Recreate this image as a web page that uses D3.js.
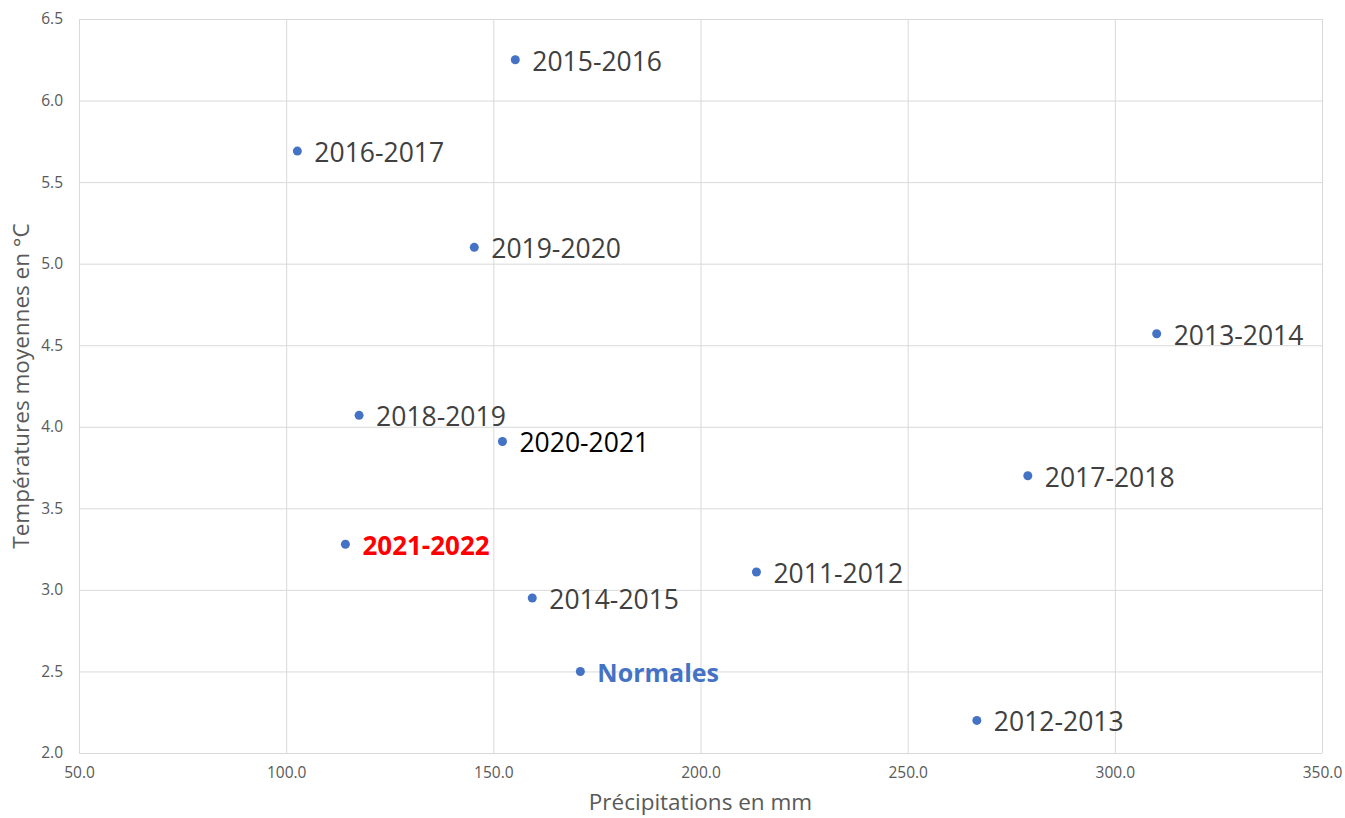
<!DOCTYPE html>
<html><head><meta charset="utf-8">
<script src="https://cdn.jsdelivr.net/npm/d3@7"></script>
<style>body{margin:0;background:#fff;}svg{display:block;}</style>
</head><body>
<svg id="chart" width="1345" height="818"></svg>
<script>
const labels = ["2015-2016","2016-2017","2019-2020","2013-2014","2018-2019","2020-2021","2017-2018","2021-2022","2011-2012","2014-2015","Normales","2012-2013"];
const precip = [155.3,102.7,145.4,310.1,117.6,152.2,279.0,114.3,213.5,159.4,171.0,266.7];
const temps  = [6.25,5.69,5.10,4.57,4.07,3.91,3.70,3.28,3.11,2.95,2.50,2.20];
const xTicks = [50,100,150,200,250,300,350];
const yTicks = [2.0,2.5,3.0,3.5,4.0,4.5,5.0,5.5,6.0,6.5];

const labelStyle = {
  "Normales": {fill:"#4472C4", weight:"bold", size:"25px"},
  "2021-2022": {fill:"#FF0000", weight:"bold", size:"26px"},
  "2020-2021": {fill:"#000000", weight:"normal", size:"26.5px"}
};
const defStyle = {fill:"#404040", weight:"normal", size:"26.5px"};

const svg = d3.select("#chart");
const L = 79, R = 1322, T = 19, B = 753;
const x = d3.scaleLinear().domain([50,350]).range([L,R]);
const y = d3.scaleLinear().domain([2.0,6.5]).range([B,T]);
const font = "'Open Sans', 'Noto Sans', sans-serif";

// gridlines
const gx = svg.append("g").attr("transform",`translate(0,${B})`)
  .call(d3.axisBottom(x).tickValues(xTicks).tickSize(-(B-T)).tickFormat(d=>d.toFixed(1)).tickPadding(14));
gx.select(".domain").remove();
gx.selectAll(".tick line").attr("stroke","#d9d9d9").attr("stroke-width",1);
gx.selectAll(".tick text").attr("fill","#595959").style("font-family",font).style("font-size","15.5px");

const gy = svg.append("g").attr("transform",`translate(${L},0)`)
  .call(d3.axisLeft(y).tickValues(yTicks).tickSize(-(R-L)).tickFormat(d=>d.toFixed(1)).tickPadding(16));
gy.select(".domain").remove();
gy.selectAll(".tick line").attr("stroke","#d9d9d9").attr("stroke-width",1);
gy.selectAll(".tick text").attr("fill","#595959").style("font-family",font).style("font-size","15.5px");

// axis titles
svg.append("text").attr("x",(L+R)/2 + 0).attr("y",810).attr("text-anchor","middle")
  .attr("fill","#595959").style("font-family",font).style("font-size","22.5px").text("Précipitations en mm");
svg.append("text").attr("transform",`translate(29,${(T+B)/2}) rotate(-90)`).attr("text-anchor","middle")
  .attr("fill","#595959").style("font-family",font).style("font-size","22.5px").text("Températures moyennes en °C");

const data = labels.map((l,i)=>({label:l, px:precip[i], t:temps[i]}));

svg.append("g").selectAll("circle").data(data).join("circle")
  .attr("cx",d=>x(d.px)).attr("cy",d=>y(d.t)).attr("r",4.5).attr("fill","#4472C4");

svg.append("g").selectAll("text").data(data).join("text")
  .attr("x",d=>x(d.px)+17).attr("y",d=>y(d.t)+11)
  .attr("fill",d=>(labelStyle[d.label]||defStyle).fill)
  .style("font-weight",d=>(labelStyle[d.label]||defStyle).weight)
  .style("font-family",font).style("font-size",d=>(labelStyle[d.label]||defStyle).size)
  .text(d=>d.label);
</script>
</body></html>
